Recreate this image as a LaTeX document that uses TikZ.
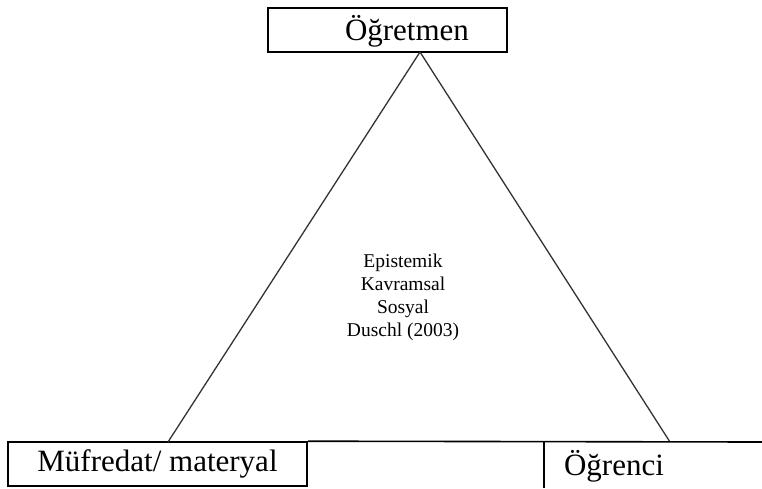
\documentclass[tikz,border=0pt]{standalone}
\usepackage{fontspec}
\setmainfont{Liberation Serif}

\begin{document}
\begin{tikzpicture}[x=1pt,y=-1pt,
		box/.style={rectangle,draw,line width=1.6pt,inner sep=0pt,font=\fontsize{31}{33}\selectfont},
		label text/.style={inner sep=0pt,font=\fontsize{31}{33}\selectfont},
		centre text/.style={align=center,inner sep=0pt,font=\fontsize{19.5}{23}\selectfont}]
		\useasboundingbox (0,0) rectangle (762,488);
		
		\node[box, minimum width=239, minimum height=44] (teacher) at (387.5,30) {};
		\node[label text] (teachername) at (407,31) {Öğretmen};
		\node[box, minimum width=299, minimum height=44] (curriculum) at (157.5,464) {Müfredat/ materyal};
		\node[label text] (student) at (614,466) {Öğrenci};
		\node[centre text] (aspects) at (403,297) {Epistemik\\Kavramsal\\Sosyal\\Duschl (2003)};
		
		\coordinate (apex) at (420,52);
		\coordinate (leftfoot) at (168,442);
		\coordinate (rightfoot) at (670,442);
		\coordinate (lineend) at (762,442);
		\coordinate (split) at (544,442);
		\coordinate (splitend) at (544,488);
		
		\path[draw,line width=1.3pt,black!80]
		(apex) edge (leftfoot)
		(apex) edge (rightfoot);
		\path[draw,line width=1.6pt]
		(curriculum.north east) edge (lineend)
		(split) edge (splitend);
\end{tikzpicture}
\end{document}
